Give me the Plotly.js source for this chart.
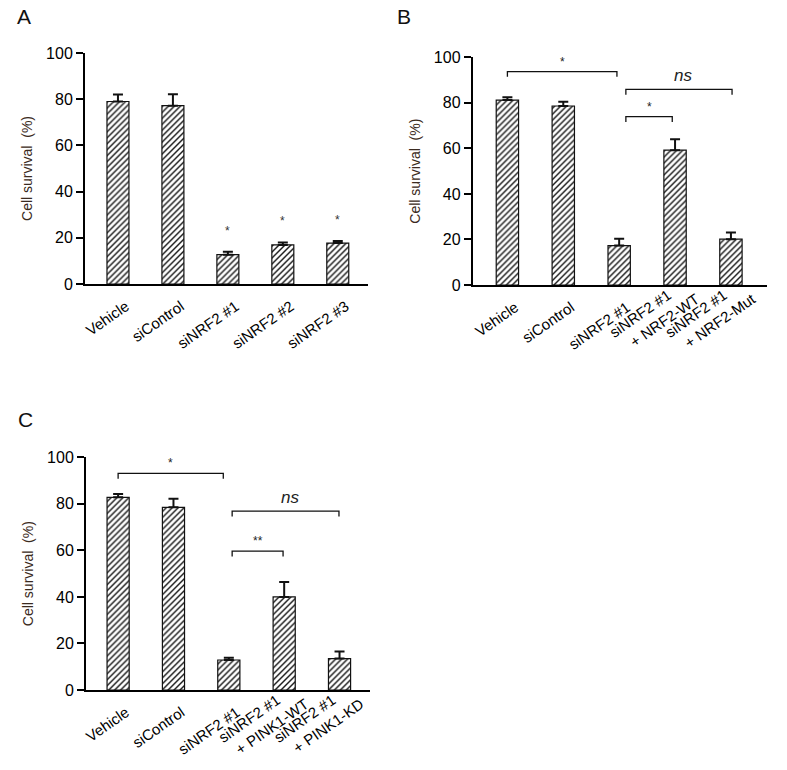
<!DOCTYPE html>
<html>
<head>
<meta charset="utf-8">
<script src="https://cdn.plot.ly/plotly-3.0.1.min.js"></script>
<style>body{margin:0;background:#fff}#chart{width:787px;height:770px}</style>
</head>
<body>
<div id="chart"></div>
<script>
// ---- Data ----
const catsA = ["Vehicle", "siControl", "siNRF2 #1", "siNRF2 #2", "siNRF2 #3"];
const valsA = [79.0, 77.2, 12.7, 16.9, 17.7];
const errA  = [3.0, 4.9, 1.2, 1.1, 0.9];
const starsA = ["", "", "*", "*", "*"];

const catsB = ["Vehicle", "siControl", "siNRF2 #1", "siNRF2 #1<br>+ NRF2-WT", "siNRF2 #1<br>+ NRF2-Mut"];
const valsB = [81.2, 78.6, 17.3, 59.2, 20.1];
const errB  = [1.3, 1.9, 3.0, 4.8, 3.0];
const brB_from  = [0, 2.12, 2.12];
const brB_to    = [1.96, 4.02, 2.95];
const brB_y     = [93.7, 85.9, 73.9];
const brB_label = ["*", "ns", "*"];

const catsC = ["Vehicle", "siControl", "siNRF2 #1", "siNRF2 #1<br>+ PINK1-WT", "siNRF2 #1<br>+ PINK1-KD"];
const valsC = [82.8, 78.5, 12.9, 40.0, 13.5];
const errC  = [1.4, 3.7, 1.0, 6.4, 3.0];
const brC_from  = [0, 2.06, 2.06];
const brC_to    = [1.9, 3.99, 2.98];
const brC_y     = [93.1, 76.9, 59.7];
const brC_label = ["*", "ns", "**"];

const yTicks = [0, 20, 40, 60, 80, 100];
const panelLabels = ["A", "B", "C"];

// ---- Build ----
const FONT = "Liberation Sans, Arial, sans-serif";
const NB = "\u00a0";
const idx = cats => cats.map((_, i) => i);
const isMulti = c => c.includes("<br>");

function barTrace(cats, vals, errs, xa, ya) {
  return {
    type: "bar",
    x: idx(cats),
    y: vals,
    width: 0.4,
    xaxis: xa, yaxis: ya,
    marker: {
      color: "white",
      line: {color: "#111", width: 1.2},
      pattern: {shape: "/", fgcolor: "#1a1a1a", bgcolor: "white", size: 4.2, solidity: 0.34}
    },
    error_y: {type: "data", array: errs, arrayminus: errs.map(() => 0), symmetric: false,
              color: "#111", thickness: 2, width: 5},
    hoverinfo: "skip"
  };
}
// empty helper trace so the overlaying label axis gets its own subplot
const holder = (xa, ya) => ({type: "scatter", mode: "markers", x: [], y: [], xaxis: xa, yaxis: ya,
  hoverinfo: "skip", showlegend: false});
const data = [
  barTrace(catsA, valsA, errA, "x", "y"),
  barTrace(catsB, valsB, errB, "x2", "y2"),
  barTrace(catsC, valsC, errC, "x3", "y3"),
  holder("x4", "y2"),
  holder("x5", "y3")
];

const tickFont = {family: FONT, size: 15, color: "#000"};
// base axis: single-line category labels
function xAxis(domain, cats, anchor, range) {
  const keep = idx(cats).filter(i => !isMulti(cats[i]));
  return {
    domain: domain, anchor: anchor, range: range, autorange: false,
    tickvals: keep, ticktext: keep.map(i => cats[i]),
    tickangle: -35, ticks: "", showline: true, linecolor: "#000", linewidth: 2,
    showgrid: false, zeroline: false, fixedrange: true,
    tickfont: tickFont, ticklabelstandoff: 6, ticklabelshift: 8
  };
}
// overlay axis: two-line labels, first line staggered back as in the original
function xAxisMulti(base, cats, anchor, range) {
  const keep = idx(cats).filter(i => isMulti(cats[i]));
  return {
    overlaying: base, anchor: anchor, side: "bottom", range: range, autorange: false,
    tickvals: keep, ticktext: keep.map(i => cats[i].replace("<br>", NB.repeat(5) + "<br>")),
    tickangle: -35, ticks: "", showline: false, showgrid: false, zeroline: false, fixedrange: true,
    tickfont: tickFont, ticklabelstandoff: -14, ticklabelshift: 10
  };
}
function yAxis(domain, anchor) {
  return {
    domain: domain, anchor: anchor, range: [0, 100],
    tickvals: yTicks, ticktext: yTicks.map(String),
    ticks: "outside", ticklen: 7, tickwidth: 2, tickcolor: "#000",
    showline: true, linecolor: "#000", linewidth: 2,
    showgrid: false, zeroline: false, fixedrange: true,
    tickfont: {family: FONT, size: 16, color: "#000"},
    title: {text: "Cell survival" + NB + NB + "(%)", font: {family: FONT, size: 14, color: "#3a2a20"}, standoff: 10}
  };
}

const annotations = [];
const shapes = [];
starsA.forEach((s, i) => {
  if (!s) return;
  annotations.push({xref: "x", yref: "y", x: i, y: valsA[i] + errA[i], text: s, showarrow: false,
    yanchor: "bottom", yshift: 12, font: {family: FONT, size: 12, color: "#333"}});
});
function brackets(from, to, ys, labels, xr, yr) {
  for (let k = 0; k < from.length; k++) {
    const drop = 2.3;
    shapes.push({type: "path", xref: xr, yref: yr,
      path: `M ${from[k]},${ys[k] - drop} L ${from[k]},${ys[k]} L ${to[k]},${ys[k]} L ${to[k]},${ys[k] - drop}`,
      line: {color: "#111", width: 1.3}});
    const isNs = labels[k] === "ns";
    annotations.push({xref: xr, yref: yr, x: (from[k] + to[k]) / 2 + (isNs ? 0.08 : 0), y: ys[k],
      text: isNs ? "<i>ns</i>" : labels[k], showarrow: false, yanchor: "bottom",
      yshift: isNs ? 2 : 1,
      font: {family: FONT, size: isNs ? 17 : 12, color: "#222"}});
  }
}
brackets(brB_from, brB_to, brB_y, brB_label, "x2", "y2");
brackets(brC_from, brC_to, brC_y, brC_label, "x3", "y3");

const labelPos = [[24, 16], [404, 16], [25, 420]];
panelLabels.forEach((t, i) => {
  annotations.push({xref: "paper", yref: "paper", x: labelPos[i][0] / 787, y: 1 - labelPos[i][1] / 770,
    text: t, showarrow: false, xanchor: "center", yanchor: "middle",
    font: {family: FONT, size: 21, color: "#111"}});
});

const rangeA = [-0.6, 4.55], rangeB = [-0.62, 4.64], rangeC = [-0.58, 4.55];
const layout = {
  width: 787, height: 770,
  margin: {l: 0, r: 0, t: 0, b: 0},
  paper_bgcolor: "white", plot_bgcolor: "white",
  showlegend: false, bargap: 0,
  xaxis:  xAxis([0.108, 0.4676], catsA, "y", rangeA),
  yaxis:  yAxis([0.6312, 0.9312], "x"),
  xaxis2: xAxis([0.6007, 0.9742], catsB, "y2", rangeB),
  yaxis2: yAxis([0.6299, 0.9256], "x2"),
  xaxis3: xAxis([0.1093, 0.4701], catsC, "y3", rangeC),
  yaxis3: yAxis([0.1039, 0.4061], "x3"),
  xaxis4: xAxisMulti("x2", catsB, "y2", rangeB),
  xaxis5: xAxisMulti("x3", catsC, "y3", rangeC),
  shapes: shapes,
  annotations: annotations
};

Plotly.newPlot("chart", data, layout, {displayModeBar: false, staticPlot: true});
</script>
</body>
</html>
